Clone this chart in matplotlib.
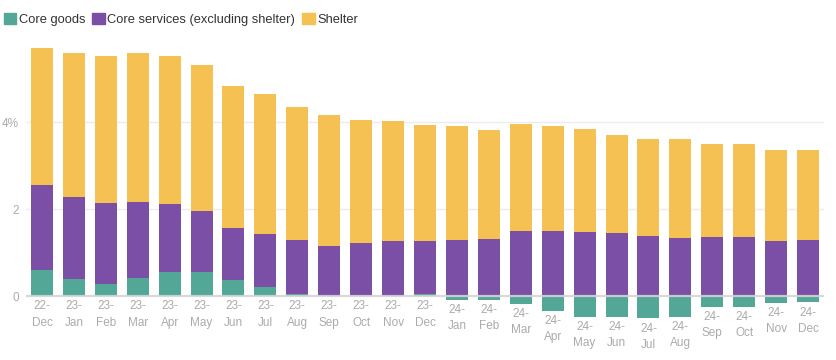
import matplotlib.pyplot as plt
from matplotlib.patches import Patch
import numpy as np

months = ["22-\nDec", "23-\nJan", "23-\nFeb", "23-\nMar", "23-\nApr", "23-\nMay", "23-\nJun",
          "23-\nJul", "23-\nAug", "23-\nSep", "23-\nOct", "23-\nNov", "23-\nDec",
          "24-\nJan", "24-\nFeb", "24-\nMar", "24-\nApr", "24-\nMay", "24-\nJun",
          "24-\nJul", "24-\nAug", "24-\nSep", "24-\nOct", "24-\nNov", "24-\nDec"]
core_goods = [0.60, 0.40, 0.28, 0.42, 0.56, 0.56, 0.37, 0.21, 0.05, 0.01, 0.03, 0.01, 0.05,
              -0.09, -0.09, -0.18, -0.34, -0.48, -0.48, -0.51, -0.48, -0.25, -0.25, -0.16, -0.14]
core_services = [1.96, 1.88, 1.86, 1.75, 1.56, 1.40, 1.20, 1.22, 1.24, 1.15, 1.20, 1.26, 1.22,
                 1.29, 1.32, 1.50, 1.50, 1.48, 1.45, 1.38, 1.34, 1.36, 1.36, 1.27, 1.29]
shelter = [3.14, 3.31, 3.38, 3.42, 3.40, 3.35, 3.26, 3.21, 3.05, 3.00, 2.82, 2.75, 2.67,
           2.62, 2.50, 2.46, 2.41, 2.36, 2.26, 2.23, 2.27, 2.14, 2.14, 2.09, 2.07]

c_goods = "#53A796"
c_serv = "#7B4FA5"
c_shelter = "#F6C153"
grey = "#ababab"

plt.rcParams['font.family'] = ['Liberation Sans', 'DejaVu Sans']

fig = plt.figure(figsize=(8.37, 3.60), dpi=100)
ax = fig.add_axes([26 / 837, 40 / 360, (824 - 26) / 837, 280 / 360])

x = np.arange(len(months))
goods = np.array(core_goods)
serv = np.array(core_services)
shel = np.array(shelter)

# positive parts stack upward from zero, negative goods hang below
pos_goods = np.clip(goods, 0, None)
neg_goods = np.clip(goods, None, 0)
w = 0.69
ax.bar(x, pos_goods, width=w, color=c_goods, zorder=2)
ax.bar(x, neg_goods, width=w, color=c_goods, zorder=2)
ax.bar(x, serv, width=w, bottom=pos_goods, color=c_serv, zorder=2)
ax.bar(x, shel, width=w, bottom=pos_goods + serv, color=c_shelter, zorder=2)

ax.axhline(0, color="#d4d4d4", lw=1.6, zorder=3, alpha=0.9)
for yv in [2, 4]:
    ax.axhline(yv, color="#ececec", lw=1.0, zorder=1)

ax.set_xlim(-0.5, len(months) - 0.5)
ax.set_ylim(-0.545, 5.89)
ax.set_yticks([0, 2, 4])
ax.set_yticklabels(["0", "2", "4%"], color=grey, fontsize=8.5)
ax.tick_params(axis="y", length=0, pad=5)
ax.set_xticks([])
for s in ax.spines.values():
    s.set_visible(False)

# month labels sit just below the lowest point of each bar
for i, lab in enumerate(months):
    ax.annotate(lab, (i, min(core_goods[i], 0)), xytext=(0, -3), textcoords="offset points",
                ha="center", va="top", fontsize=8.5, color=grey, linespacing=1.45,
                annotation_clip=False)

handles = [Patch(color=c_goods, label="Core goods"),
           Patch(color=c_serv, label="Core services (excluding shelter)"),
           Patch(color=c_shelter, label="Shelter")]
fig.legend(handles=handles, loc="upper left", bbox_to_anchor=(4 / 837, 1 - 13 / 360), ncol=3,
           frameon=False, fontsize=9.3, handlelength=0.95, handleheight=0.95, handletextpad=0.2,
           columnspacing=0.55, borderaxespad=0, borderpad=0, labelcolor="#333333")

fig.savefig("out.png", dpi=100)
